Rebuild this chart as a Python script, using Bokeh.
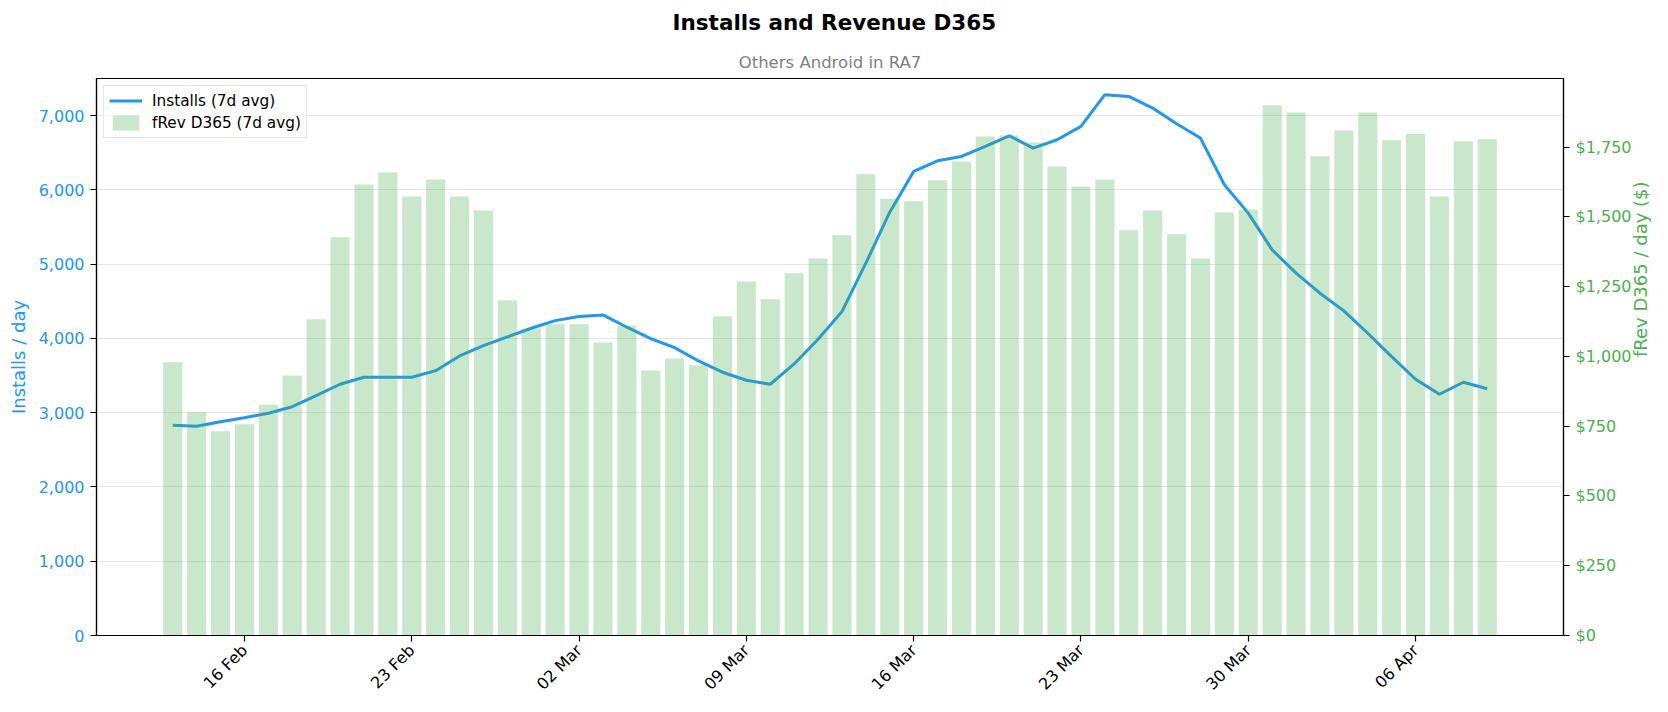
import pandas as pd
from math import pi
from bokeh.plotting import figure
from bokeh.models import (Range1d, LinearAxis, NumeralTickFormatter, FixedTicker,
                          DatetimeTickFormatter, Title, Legend, LegendItem,
                          ColumnDataSource)
from bokeh.embed import file_html
from bokeh.resources import INLINE

# ---------------- data ----------------
TITLE = "Installs and Revenue D365"
SUBTITLE = "Others Android in RA7"
LEFT_LABEL = "Installs / day"
RIGHT_LABEL = "fRev D365 / day ($)"
LINE_LABEL = "Installs (7d avg)"
BAR_LABEL = "fRev D365 (7d avg)"

start_date = "2025-02-13"
n_days = 56

installs = [2830, 2817, 2879, 2933, 2992, 3081, 3230, 3383, 3477, 3477,
            3477, 3566, 3764, 3903, 4020, 4137, 4240, 4294, 4317, 4151,
            3998, 3876, 3697, 3545, 3437, 3383, 3656, 3989, 4361, 5013,
            5700, 6248, 6392, 6450, 6585, 6729, 6563, 6675, 6855, 7282,
            7259, 7102, 6891, 6698, 6069, 5687, 5193, 4879, 4609, 4371,
            4070, 3755, 3450, 3248, 3410, 3323]

revenue = [979, 800, 732, 757, 827, 932, 1133, 1427, 1616, 1659,
           1573, 1634, 1573, 1523, 1201, 1100, 1115, 1115, 1050, 1111,
           950, 993, 968, 1144, 1269, 1205, 1298, 1351, 1434, 1653,
           1565, 1556, 1631, 1699, 1788, 1792, 1767, 1681, 1609, 1634,
           1452, 1523, 1438, 1351, 1516, 1527, 1900, 1874, 1717, 1810,
           1874, 1775, 1797, 1573, 1771, 1778]

x_tick_dates = ["2025-02-16", "2025-02-23", "2025-03-02", "2025-03-09",
                "2025-03-16", "2025-03-23", "2025-03-30", "2025-04-06"]
left_ticks = [0, 1000, 2000, 3000, 4000, 5000, 6000, 7000]
right_ticks = [0, 250, 500, 750, 1000, 1250, 1500, 1750]
left_max = 7500
right_max = 1996

# ---------------- style ----------------
FONT = "DejaVu Sans"
BLUE = "#2196F3"
GREEN = "#4CAF50"
TICK_FS = "16px"
LABEL_FS = "18px"

dates = pd.date_range(start_date, periods=n_days, freq="D")
DAY_MS = 86400000.0


def ms(ts):
    return pd.Timestamp(ts).value / 1e6


x0 = ms(dates[0]) - 3.19 * DAY_MS
x1 = ms(dates[-1]) + 3.19 * DAY_MS

W, H = 1668, 712
ML, MR, MT, MB = 96, 105, 78, 77

p = figure(width=W, height=H, x_axis_type="datetime", output_backend="svg",
           toolbar_location=None, title=None,
           x_range=Range1d(x0, x1), y_range=Range1d(0, left_max),
           min_border_left=ML, min_border_right=MR,
           min_border_top=MT, min_border_bottom=MB,
           background_fill_color="white", border_fill_color="white")
p.extra_y_ranges = {"rev": Range1d(0, right_max)}

p.outline_line_color = "black"
p.outline_line_width = 1.2

# titles (subtitle closest to the frame, main title above it)
p.add_layout(Title(text=SUBTITLE, align="center", text_font=FONT,
                   text_font_size="16.5px", text_font_style="normal",
                   text_color="#808080", standoff=13), "above")
p.add_layout(Title(text=TITLE, align="left", offset=576, text_font=FONT,
                   text_font_size="21.5px", text_font_style="bold",
                   text_color="black", standoff=16, vertical_align="top"),
             "above")

src = ColumnDataSource(dict(date=dates, installs=installs, revenue=revenue))

ln = p.line("date", "installs", source=src, line_color=BLUE, line_width=3)
bars = p.vbar(x="date", top="revenue", width=0.8 * DAY_MS, source=src,
              y_range_name="rev", fill_color=GREEN, fill_alpha=0.3,
              line_color=None)


def style_axis(ax, label_color):
    ax.axis_line_color = "black"
    ax.axis_line_width = 1.2
    ax.major_tick_line_color = "black"
    ax.major_tick_line_width = 1.2
    ax.major_tick_out = 6
    ax.major_tick_in = 0
    ax.minor_tick_out = 0
    ax.minor_tick_in = 0
    ax.major_label_text_font = FONT
    ax.major_label_text_font_size = TICK_FS
    ax.major_label_text_color = label_color
    ax.major_label_standoff = 6


def style_label(ax, text, color, standoff):
    ax.axis_label = text
    ax.axis_label_text_font = FONT
    ax.axis_label_text_font_size = LABEL_FS
    ax.axis_label_text_font_style = "normal"
    ax.axis_label_text_color = color
    ax.axis_label_standoff = standoff


# left axis
ly = p.yaxis[0]
ly.ticker = FixedTicker(ticks=left_ticks)
ly.formatter = NumeralTickFormatter(format="0,0")
style_axis(ly, BLUE)
style_label(ly, LEFT_LABEL, BLUE, 7)

# right axis
ry = LinearAxis(y_range_name="rev", ticker=FixedTicker(ticks=right_ticks),
                formatter=NumeralTickFormatter(format="$0,0"))
style_axis(ry, GREEN)
style_label(ry, RIGHT_LABEL, GREEN, 6)
if "axis_label_orientation" in LinearAxis.properties():
    ry.axis_label_orientation = pi / 2
p.add_layout(ry, "right")

# x axis
xa = p.xaxis[0]
xa.ticker = FixedTicker(ticks=[ms(d) for d in x_tick_dates])
xa.formatter = DatetimeTickFormatter(days="%d %b", months="%d %b",
                                     years="%d %b", hours="%d %b",
                                     minutes="%d %b", seconds="%d %b",
                                     milliseconds="%d %b", microseconds="%d %b",
                                     minsec="%d %b", hourmin="%d %b")
style_axis(xa, "black")
xa.major_label_orientation = pi / 4

# grid
p.xgrid.visible = False
p.ygrid.ticker = FixedTicker(ticks=left_ticks)
p.ygrid.grid_line_color = "#e5e5e5"
p.ygrid.grid_line_width = 1

legend = Legend(items=[LegendItem(label=LINE_LABEL, renderers=[ln]),
                       LegendItem(label=BAR_LABEL, renderers=[bars])],
                location="top_left", margin=7, padding=5, spacing=3,
                glyph_width=33, glyph_height=19, label_height=19,
                label_standoff=10, label_text_font=FONT,
                label_text_font_size="15.3px", label_text_color="black",
                border_line_color="#cccccc", border_line_width=1,
                background_fill_color="white", background_fill_alpha=0.8)
p.add_layout(legend)

open("out.html", "w").write(file_html(p, INLINE))
